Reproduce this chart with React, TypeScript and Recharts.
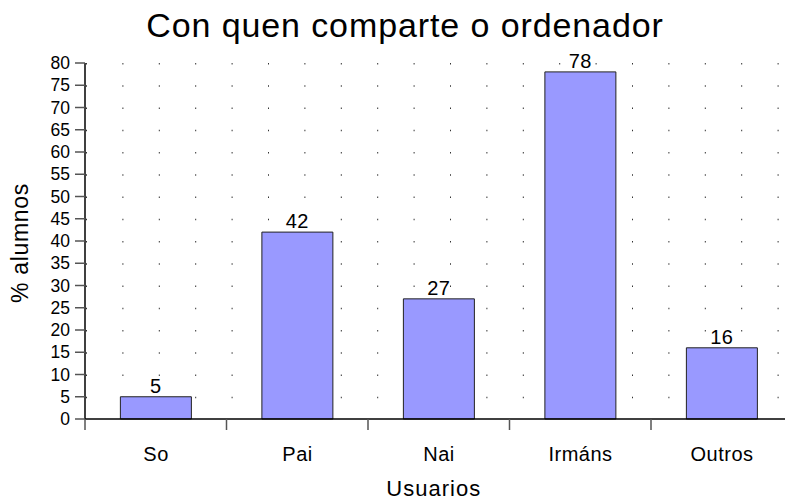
import { BarChart, Bar, XAxis, YAxis, CartesianGrid, LabelList } from 'recharts';

const users = ['So', 'Pai', 'Nai', 'Irmáns', 'Outros'];
const percents = [5, 42, 27, 78, 16];
const yTicks = [0, 5, 10, 15, 20, 25, 30, 35, 40, 45, 50, 55, 60, 65, 70, 75, 80];

const data = users.map((name, i) => ({ name, value: percents[i] }));

const FONT = 'Arial, "Liberation Sans", sans-serif';
const BAND = (792.5 - 85) / users.length;

function CategoryTick(props: any) {
  const { x, y, payload, index } = props;
  const half = BAND / 2;
  return (
    <g>
      <line x1={x - half} y1={y - 8} x2={x - half} y2={y + 3} stroke="#555" strokeWidth={1.5} />
      {index === users.length - 1 && (
        <line x1={x + half} y1={y - 8} x2={x + half} y2={y + 3} stroke="#555" strokeWidth={1.5} />
      )}
      <text x={x + 0.3} y={y + 34} textAnchor="middle" fontSize={20} letterSpacing={0.5} fontFamily={FONT} fill="#000">
        {payload.value}
      </text>
    </g>
  );
}

function YTitle(props: any) {
  const { viewBox } = props;
  const cx = 20;
  const cy = viewBox.y + viewBox.height / 2 + 2;
  return (
    <text
      x={cx}
      y={cy}
      transform={`rotate(-90, ${cx}, ${cy})`}
      textAnchor="middle"
      dominantBaseline="central"
      fontSize={23}
      letterSpacing={0.7}
      fontFamily={FONT}
      fill="#000"
    >
      % alumnos
    </text>
  );
}

function XTitle(props: any) {
  const { viewBox } = props;
  return (
    <text
      x={viewBox.x + viewBox.width / 2 - 5}
      y={496}
      textAnchor="middle"
      fontSize={22}
      letterSpacing={1}
      fontFamily={FONT}
      fill="#000"
    >
      Usuarios
    </text>
  );
}

export default function App() {
  return (
    <div style={{ position: 'absolute', left: 0, top: 0, width: 785, height: 502, overflow: 'hidden', background: '#fff' }}>
      <div
        style={{
          position: 'absolute',
          left: 0,
          width: 810,
          top: 6,
          textAlign: 'center',
          fontFamily: FONT,
          fontSize: 34,
          letterSpacing: 0.9,
          color: '#000',
        }}
      >
        Con quen comparte o ordenador
      </div>
      <BarChart
        width={800}
        height={502}
        data={data}
        margin={{ top: 63, right: 7.5, bottom: 0, left: 0 }}
        barCategoryGap="25%"
      >
        <CartesianGrid
          horizontal={false}
          stroke="#333"
          strokeDasharray="1.5 20.75"
          verticalCoordinatesGenerator={({ offset }: any) =>
            Array.from({ length: 20 }, (_, k) => offset.left + 1.5 + 36.4 * k)
          }
        />
        <XAxis
          dataKey="name"
          height={83}
          axisLine={{ stroke: '#000', strokeWidth: 1.5 }}
          tickLine={false}
          tick={<CategoryTick />}
          interval={0}
          label={<XTitle />}
        />
        <YAxis
          width={85}
          domain={[0, 80]}
          ticks={yTicks}
          interval={0}
          axisLine={{ stroke: '#000', strokeWidth: 1.5 }}
          tickLine={{ stroke: '#555', strokeWidth: 1.5 }}
          tickSize={10}
          tickMargin={5}
          tick={{ fontSize: 17.5, fontFamily: FONT, fill: '#000' }}
          label={<YTitle />}
        />
        <Bar dataKey="value" fill="#9999ff" stroke="#222" strokeWidth={1} isAnimationActive={false}>
          <LabelList dataKey="value" position="top" offset={4} fontSize={20} letterSpacing={0.5} fontFamily={FONT} fill="#000" />
        </Bar>
      </BarChart>
    </div>
  );
}
